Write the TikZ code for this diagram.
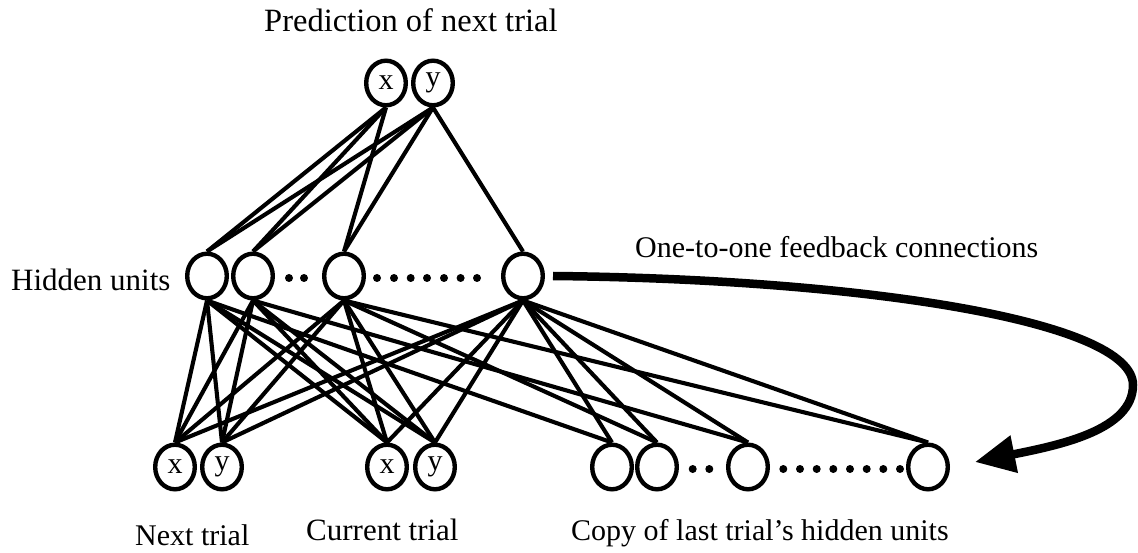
\documentclass[tikz,border=0pt]{standalone}
\usepackage{fontspec}
\setmainfont{Liberation Serif}
\usetikzlibrary{shapes.geometric,arrows.meta}
\newcommand\diagfont{\fontsize{31}{37}\selectfont}
\newcommand\diagsmallfont{\fontsize{30}{36}\selectfont}
\newcommand\diagbigfont{\fontsize{32.5}{39}\selectfont}
\newcommand\unitfont{\fontsize{30}{36}\selectfont}
\tikzset{
  unit/.style={ellipse, draw, line width=4.4pt, minimum width=39.6pt, minimum height=44.6pt,
    inner sep=0pt, font=\unitfont},
  wire/.style={line width=4.1pt},
  dotmark/.style={circle, fill, inner sep=0pt, minimum size=8pt},
  feedback/.style={line width=8.5pt, -{Triangle[length=40pt,width=36pt]}},
  caption/.style={font=\diagfont, inner sep=0pt, anchor=base west},
}
\begin{document}
\begin{tikzpicture}[x=1pt,y=-1pt]
\useasboundingbox (0,0) rectangle (1138,553);
% output layer
\node[unit] (ox) at (386,83) {x};
\node[unit] (oy) at (433,83) {y};
% hidden layer
\node[unit] (h1) at (207,276) {};
\node[unit] (h2) at (253,276) {};
\node[unit] (h3) at (344,276) {};
\node[unit] (h4) at (523,276) {};
\foreach \i/\xx in {1/289,2/304,3/377,4/394,5/410.7,6/427,7/444,8/460.6,9/477}
  \node[dotmark] (hd\i) at (\xx,278) {};
% input layer
\node[unit] (nx) at (175,467) {x};
\node[unit] (ny) at (222,467) {y};
\node[unit] (cx) at (387,467) {x};
\node[unit] (cy) at (435,467) {y};
\node[unit] (c1) at (612,467) {};
\node[unit] (c2) at (657,467) {};
\node[unit] (c3) at (748,467) {};
\node[unit] (c4) at (928,467) {};
\foreach \i/\xx in {1/692.7,2/709.3,3/783.3,4/800,5/816.7,6/833.3,7/850,8/866.7,9/883.3,10/900}
  \node[dotmark] (cd\i) at (\xx,469) {};
% output connections
\foreach \h in {h1,h2,h3} \draw[wire] (ox.south) -- (\h.north);
\foreach \h in {h1,h2,h3,h4} \draw[wire] (oy.south) -- (\h.north);
% hidden to trial inputs
\foreach \h in {h1,h2,h3,h4}
  \foreach \t in {nx,ny,cx,cy}
    \draw[wire] (\h.south) -- (\t.north);
% hidden to copy units
\foreach \c in {c1,c2,c3,c4} \draw[wire] (h4.south) -- (\c.north);
\draw[wire] (h1.south) -- (c1.north);
\draw[wire] (h3.south) -- (c2.north);
\draw[wire] (h2.south) -- (c3.north);
\draw[wire] (h3.south) -- (c4.north);
% feedback arrow
\coordinate (turn) at (1133,385);
\draw[feedback] ([xshift=8pt]h4.east) .. controls +(305,3) and +(0,-65) .. (turn)
  .. controls +(0,45) and +(85,-17) .. ([xshift=25pt,yshift=5pt]c4.east);
% captions
\node[caption, font=\diagbigfont] (ttop) at (264,32) {Prediction of next trial};
\node[caption] (thid) at (11,291) {Hidden units};
\node[caption, font=\diagsmallfont] (tfb) at (635,258) {One-to-one feedback connections};
\node[caption, font=\diagsmallfont] (tnext) at (135,545) {Next trial};
\node[caption] (tcur) at (306,540) {Current trial};
\node[caption, font=\diagsmallfont] (tcopy) at (571,540) {Copy of last trial’s hidden units};
\end{tikzpicture}
\end{document}
